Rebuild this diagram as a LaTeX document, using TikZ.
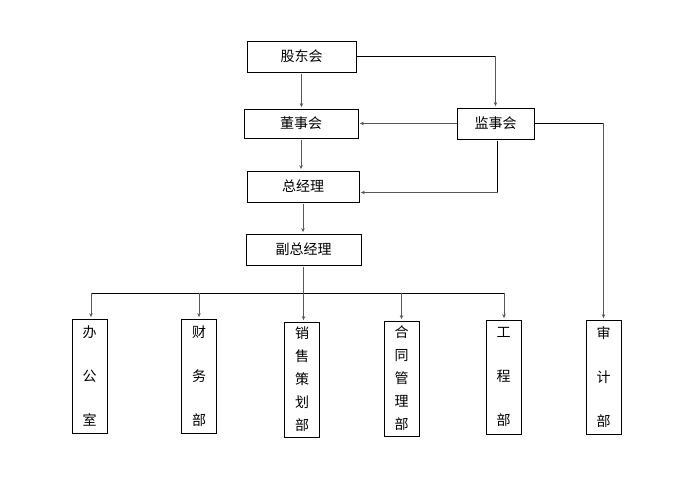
\documentclass[tikz,border=0pt]{standalone}
\usepackage{fontspec}
\setmainfont{Noto Sans CJK SC}
\usetikzlibrary{arrows.meta}
\begin{document}
\begin{tikzpicture}[x=1pt,y=-1pt,
  hbox/.style={draw,line width=0.8pt,inner sep=0pt,font=\fontsize{14}{16}\selectfont},
  vbox/.style={draw,line width=0.8pt,inner sep=0pt,minimum width=35,align=center},
  arr/.style={draw=black!65,line width=0.8pt,-{Stealth[length=4pt,width=3.5pt]},shorten >=1.5pt},
  ln/.style={draw=black,line width=0.8pt}]
\useasboundingbox (0,0) rectangle (690,481);
\fill[white] (0,0) rectangle (690,481);
\node[hbox,minimum width=109,minimum height=31] (gd) at (301.5,56.5) {股东会};
\node[hbox,minimum width=114,minimum height=29] (dsh) at (301,123.5) {董事会};
\node[hbox,minimum width=77,minimum height=31] (jsh) at (495.5,123.5) {监事会};
\node[hbox,minimum width=112,minimum height=31] (zjl) at (303,186.5) {总经理};
\node[hbox,minimum width=115,minimum height=31] (fzjl) at (303.5,249.5) {副总经理};
\node[vbox,minimum height=114,font=\fontsize{14}{44}\selectfont] (bgs) at (89.5,376) {办\\公\\室};
\node[vbox,minimum height=114,font=\fontsize{14}{44}\selectfont] (cwb) at (199,376) {财\\务\\部};
\node[vbox,minimum height=115,font=\fontsize{14}{23}\selectfont] (xsb) at (302,379.5) {销\\售\\策\\划\\部};
\node[vbox,minimum height=115,font=\fontsize{14}{23}\selectfont] (htb) at (401.5,378.5) {合\\同\\管\\理\\部};
\node[vbox,minimum height=114,font=\fontsize{14}{44}\selectfont] (gcb) at (503.5,377) {工\\程\\部};
\node[vbox,minimum height=114,font=\fontsize{14}{44}\selectfont] (sjb) at (603.5,377) {审\\计\\部};
% top connectors
\draw[arr] ([yshift=-2pt]gd.south) -- (gd.south |- dsh.north);
\draw[ln] (gd.east) -- (gd.east -| jsh.north);
\draw[arr] (gd.east -| jsh.north) -- (jsh.north);
\draw[arr] (jsh.west) -- (dsh.east);
\draw[arr] ([yshift=-2pt]dsh.south) -- (dsh.south |- zjl.north);
\draw[ln] ([xshift=2pt,yshift=-2pt]jsh.south) -- ([xshift=2pt,yshift=-6pt]jsh.south |- zjl.east);
\draw[arr] ([xshift=2pt,yshift=-6pt]jsh.south |- zjl.east) -- ([yshift=-6pt]zjl.east);
\draw[arr] ([yshift=-2pt]zjl.south) -- (zjl.south |- fzjl.north);
\draw[ln] (jsh.east) -- (jsh.east -| sjb.north);
\draw[arr] (jsh.east -| sjb.north) -- (sjb.north);
% bus
\coordinate (busL) at (91,293);
\coordinate (busR) at (504,293);
\draw[ln] (busL) -- (busR);
\draw[arr] ([yshift=-2pt]fzjl.south) -- (fzjl.south |- xsb.north);
\draw[arr] (busL) -- (busL |- bgs.north);
\draw[arr] (cwb.north |- busL) -- (cwb.north);
\draw[arr] (htb.north |- busL) -- (htb.north);
\draw[arr] (busR) -- (busR |- gcb.north);
\end{tikzpicture}
\end{document}
